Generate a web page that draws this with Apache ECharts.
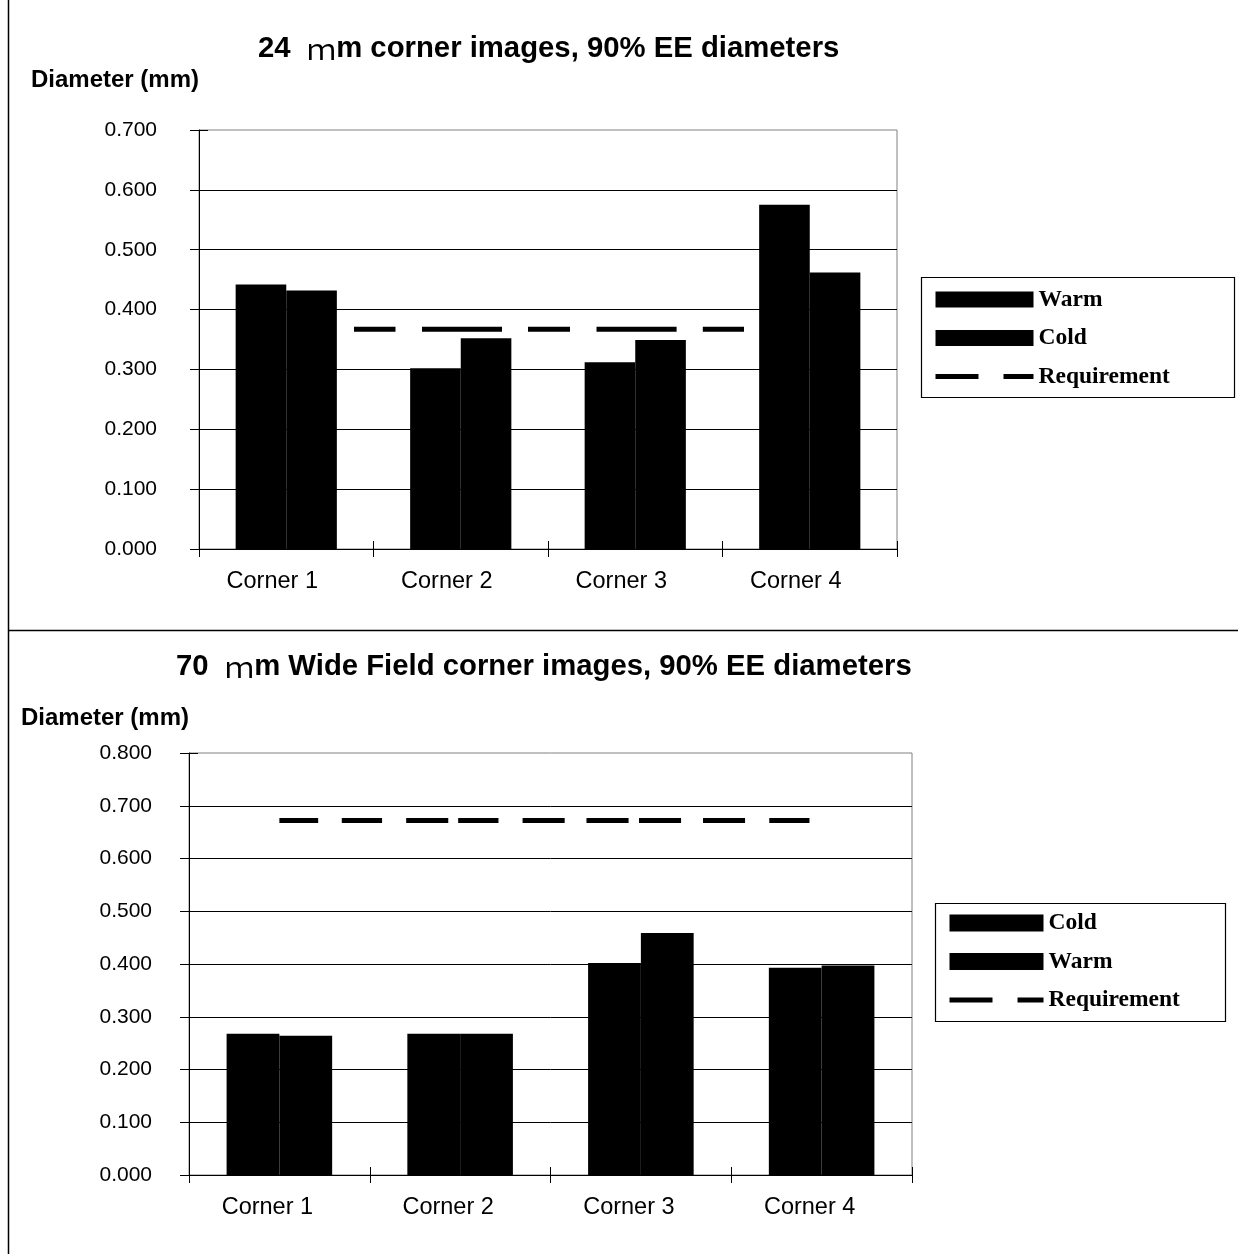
<!DOCTYPE html>
<html>
<head>
<meta charset="utf-8">
<script src="https://cdn.jsdelivr.net/npm/echarts@6/dist/echarts.min.js"></script>
<style>
html,body{margin:0;padding:0;background:#fff;}
#chart{width:1238px;height:1254px;}
</style>
</head>
<body>
<div id="chart"></div>
<script>
// ---- data ----
const categories = ['Corner 1', 'Corner 2', 'Corner 3', 'Corner 4'];
const yTicks1 = [0, 0.7, 0.1];   // min, max, step (24 um chart)
const yTicks2 = [0, 0.8, 0.1];   // min, max, step (70 um chart)

const warm24 = [0.442, 0.302, 0.312, 0.575];
const cold24 = [0.432, 0.352, 0.349, 0.462];
const req24  = [0.367, 0.367, 0.367, 0.367];

const cold70 = [0.268, 0.268, 0.402, 0.393];
const warm70 = [0.264, 0.268, 0.459, 0.397];
const req70  = [0.672, 0.672, 0.672, 0.672];

const title24 = ['24  ', 'ｍ', 'm corner images, 90% EE diameters'];
const title70 = ['70  ', 'ｍ', 'm Wide Field corner images, 90% EE diameters'];
const yName = 'Diameter (mm)';

// ---- styles ----
const SANS = '"Liberation Sans", Arial, sans-serif';
const SERIF = '"Liberation Serif", "Times New Roman", serif';
const dash24 = [41.5, 26.5, 80, 26, 42, 26.5, 80.1, 26.2, 41.2, 200];
const dash70 = [38.8, 23.6, 40.3, 24.1, 42.1, 9.9, 40.3, 24.1, 42.1, 21.8, 42.1, 10.4, 42.1, 21.9, 42.1, 24.2, 40.2, 100];

const chart = echarts.init(document.getElementById('chart'), null, {renderer: 'canvas'});

function titleOpt(parts, left, top) {
  return {
    left: left, top: top, padding: 0,
    text: '{a|' + parts[0] + '}{b|' + parts[1] + '}{a|' + parts[2] + '}',
    textStyle: {
      rich: {
        a: {fontFamily: SANS, fontWeight: 'bold', fontSize: 29.3, color: '#000', lineHeight: 34},
        b: {fontFamily: '"Noto Sans CJK JP", serif', fontWeight: 'normal', fontSize: 29.3, color: '#000', lineHeight: 34}
      }
    }
  };
}

function xAxes(gridIndex, shift) {
  return [{
    gridIndex: gridIndex, type: 'category', data: categories, boundaryGap: true,
    axisLine: {lineStyle: {color: '#000', width: 1}},
    axisTick: {show: true, inside: false, length: 8, lineStyle: {color: '#000'}},
    axisLabel: {margin: 21, fontFamily: SANS, fontSize: 23.5, color: '#000', lineHeight: 24, padding: [0, shift * 2, 0, 0]},
    splitLine: {show: false}
  }, {
    gridIndex: gridIndex, type: 'category', data: categories, boundaryGap: true, position: 'bottom',
    axisLine: {show: false},
    axisTick: {show: true, inside: true, length: 8, lineStyle: {color: '#000'}},
    axisLabel: {show: false}, splitLine: {show: false}
  }];
}

function yAxes(gridIndex, ticks, margin, nameGap) {
  return [{
    gridIndex: gridIndex, type: 'value', min: ticks[0], max: ticks[1], interval: ticks[2],
    name: yName, nameLocation: 'end', nameGap: nameGap,
    nameTextStyle: {fontFamily: SANS, fontWeight: 'bold', fontSize: 24, color: '#000', align: 'right', verticalAlign: 'middle'},
    axisLine: {show: true, lineStyle: {color: '#000', width: 1}},
    axisTick: {show: true, inside: true, length: 9, lineStyle: {color: '#000'}},
    axisLabel: {margin: margin, fontFamily: SANS, fontSize: 21, color: '#000', formatter: v => v.toFixed(3)},
    splitLine: {show: true, showMaxLine: false, lineStyle: {color: '#000', width: 1}}
  }, {
    gridIndex: gridIndex, type: 'value', min: ticks[0], max: ticks[1], interval: ticks[2], position: 'left',
    axisLine: {show: false},
    axisTick: {show: true, inside: false, length: 9, lineStyle: {color: '#000'}},
    axisLabel: {show: false}, splitLine: {show: false}
  }];
}

function legendOpt(names, left, top, itemWidth, itemHeight, textGap, gap) {
  return {
    orient: 'vertical', left: left, top: top, padding: 0,
    itemWidth: itemWidth, itemHeight: itemHeight, itemGap: gap, itemTextGap: textGap,
    selectedMode: false,
    textStyle: {fontFamily: SERIF, fontWeight: 'bold', fontSize: 23.5, color: '#000', lineHeight: 24},
    data: names.map(n => n === 'Requirement'
      ? {name: n, lineStyle: {color: '#000', width: 5, type: [43, 25], dashOffset: 0},
         itemStyle: {color: 'rgba(0,0,0,0)', borderWidth: 0, opacity: 0}}
      : {name: n, icon: 'rect', itemStyle: {color: '#000', borderWidth: 0}})
  };
}

const barStyle = {color: '#000'};

const option = {
  backgroundColor: '#fff',
  animation: false,
  title: [titleOpt(title24, 258, 32), titleOpt(title70, 176, 650)],
  grid: [
    {left: 199, top: 130, width: 698, height: 419, show: true, borderColor: '#808080', borderWidth: 1, backgroundColor: 'transparent'},
    {left: 189, top: 753, width: 723, height: 422, show: true, borderColor: '#808080', borderWidth: 1, backgroundColor: 'transparent'}
  ],
  xAxis: xAxes(0, 14).concat(xAxes(1, 12)),
  yAxis: yAxes(0, yTicks1, 42, 50).concat(yAxes(1, yTicks2, 37, 35)),
  legend: [
    legendOpt(['Warm', 'Cold', 'Requirement'], 933, 287.5, 98, 16, 9, 14.5),
    legendOpt(['Cold', 'Warm', 'Requirement'], 947, 911, 94, 17, 6, 14.5)
  ],
  series: [
    {name: 'Warm', type: 'bar', xAxisIndex: 0, yAxisIndex: 0, data: warm24, barGap: '0%', barCategoryGap: '42%', itemStyle: barStyle},
    {name: 'Cold', type: 'bar', xAxisIndex: 0, yAxisIndex: 0, data: cold24, barGap: '0%', barCategoryGap: '42%', itemStyle: barStyle},
    {name: 'Requirement', type: 'line', xAxisIndex: 0, yAxisIndex: 0, data: req24, symbol: 'none', z: 5,
     itemStyle: {color: '#000'},
     lineStyle: {color: '#000', width: 5, type: dash24, dashOffset: 522.25}},
    {name: 'Cold', type: 'bar', xAxisIndex: 2, yAxisIndex: 2, data: cold70, barGap: '0%', barCategoryGap: '41.6%', itemStyle: barStyle},
    {name: 'Warm', type: 'bar', xAxisIndex: 2, yAxisIndex: 2, data: warm70, barGap: '0%', barCategoryGap: '41.6%', itemStyle: barStyle},
    {name: 'Requirement', type: 'line', xAxisIndex: 2, yAxisIndex: 2, data: req70, symbol: 'none', z: 5,
     itemStyle: {color: '#000'},
     lineStyle: {color: '#000', width: 5, type: dash70, dashOffset: 0}}
  ],
  graphic: [
    {type: 'line', shape: {x1: 8.5, y1: 0, x2: 8.5, y2: 1254}, style: {stroke: '#000', lineWidth: 1.5}, silent: true},
    {type: 'line', shape: {x1: 8, y1: 630.5, x2: 1238, y2: 630.5}, style: {stroke: '#000', lineWidth: 1.5}, silent: true},
    {type: 'rect', shape: {x: 921.5, y: 277.5, width: 313, height: 120}, style: {fill: 'none', stroke: '#000', lineWidth: 1.2}, silent: true, z: -1},
    {type: 'rect', shape: {x: 935.5, y: 903.5, width: 290, height: 118}, style: {fill: 'none', stroke: '#000', lineWidth: 1.2}, silent: true, z: -1}
  ]
};

chart.setOption(option);
</script>
</body>
</html>
